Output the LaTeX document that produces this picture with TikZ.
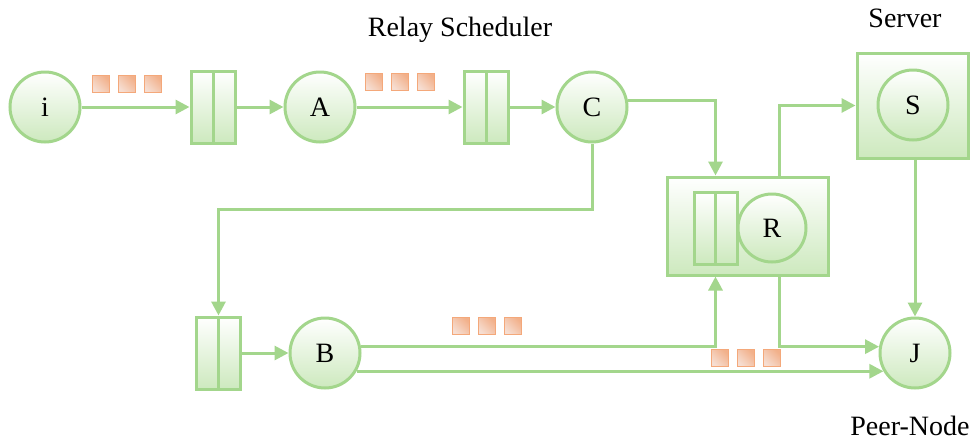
\documentclass[tikz,border=0pt]{standalone}
\usepackage{fontspec}
\setmainfont{Liberation Serif}
\usetikzlibrary{arrows.meta,calc}
\definecolor{gline}{RGB}{163,214,140}
\definecolor{gfill}{RGB}{205,233,190}
\definecolor{oline}{RGB}{244,168,122}
\definecolor{ofillA}{RGB}{246,222,210}
\definecolor{ofillB}{RGB}{242,176,138}
\tikzset{
  conn/.style={draw=gline,line width=3pt,-{Triangle[length=14pt,width=14pt]}},
  plain/.style={draw=gline,line width=3pt},
  circ/.style={circle,draw=gline,line width=3pt,minimum size=70pt,inner sep=0pt,
     top color=white,bottom color=gfill,font=\fontsize{28}{32}\selectfont},
  queue/.style={rectangle,draw=gline,line width=3pt,minimum width=44pt,minimum height=72pt,
     inner sep=0pt,top color=white,bottom color=gfill,
     path picture={\draw[gline,line width=3pt] (path picture bounding box.north) -- (path picture bounding box.south);}},
  bigbox/.style={rectangle,draw=gline,line width=3pt,inner sep=0pt,top color=white,bottom color=gfill},
  pkt/.style={rectangle,draw=oline,line width=1.8pt,minimum size=17pt,inner sep=0pt,
     shading=axis,left color=ofillA,right color=ofillB,shading angle=135},
  lbl/.style={font=\fontsize{28}{32}\selectfont,inner sep=0pt}
}
\begin{document}
\begin{tikzpicture}[x=1pt,y=-1pt]
\useasboundingbox (0,0) rectangle (975,445);
\fill[white] (0,0) rectangle (975,445);
% boxes
\node[bigbox,minimum width=161pt,minimum height=98pt] (Rbox) at (747.5,226) {};
\node[bigbox,minimum width=111pt,minimum height=105pt] (Sbox) at (912.5,105.5) {};
% queues
\node[queue] (q1) at (213,107) {};
\node[queue] (q2) at (486,107) {};
\node[queue] (q3) at (218.5,353) {};
\node[queue,minimum width=43pt] (qR) at (715.5,228) {};
% circles
\node[circ] (i) at (45,107) {i};
\node[circ] (A) at (320,107) {A};
\node[circ] (C) at (592,107) {C};
\node[circ,minimum size=68pt] (R) at (772,228) {R};
\node[circ] (S) at (913,105) {S};
\node[circ] (B) at (325,353) {B};
\node[circ] (J) at (915,353) {J};
% packets
\node[pkt] (p1) at (101,84) {};
\node[pkt] (p2) at (127,84) {};
\node[pkt] (p3) at (153,84) {};
\node[pkt] (p4) at (374,82) {};
\node[pkt] (p5) at (400,82) {};
\node[pkt] (p6) at (426,82) {};
\node[pkt] (p7) at (461,326) {};
\node[pkt] (p8) at (487,326) {};
\node[pkt] (p9) at (513,326) {};
\node[pkt] (p10) at (720,358) {};
\node[pkt] (p11) at (746,358) {};
\node[pkt] (p12) at (772,358) {};
% labels
\node[lbl] (t1) at (460,30) {Relay Scheduler};
\node[lbl] (t2) at (905,18) {Server};
\node[lbl] (t3) at (910,426) {Peer-Node};
% coordinates on R box
\coordinate (r1) at (779,177);
\coordinate (r2) at (779,275);
% connectors
\draw[conn] (i.east) -- (q1.west);
\draw[conn] (q1.east) -- (A.west);
\draw[conn] (A.east) -- (q2.west);
\draw[conn] (q2.east) -- (C.west);
\draw[conn] (C.10) -| (qR.center |- Rbox.north);
\draw[conn] (r1) |- (Sbox.west);
\draw[conn] (Sbox.south -| J.north) -- (J.north);
\draw[conn] (C.south) -- ++(0,66) -| (q3.north);
\draw[conn] (q3.east) -- (B.west);
\draw[conn] (B.10) -| (qR.center |- Rbox.south);
\draw[conn] (r2) |- (J.170);
\draw[conn] (B.-30) -- (J.-150);
\end{tikzpicture}
\end{document}
